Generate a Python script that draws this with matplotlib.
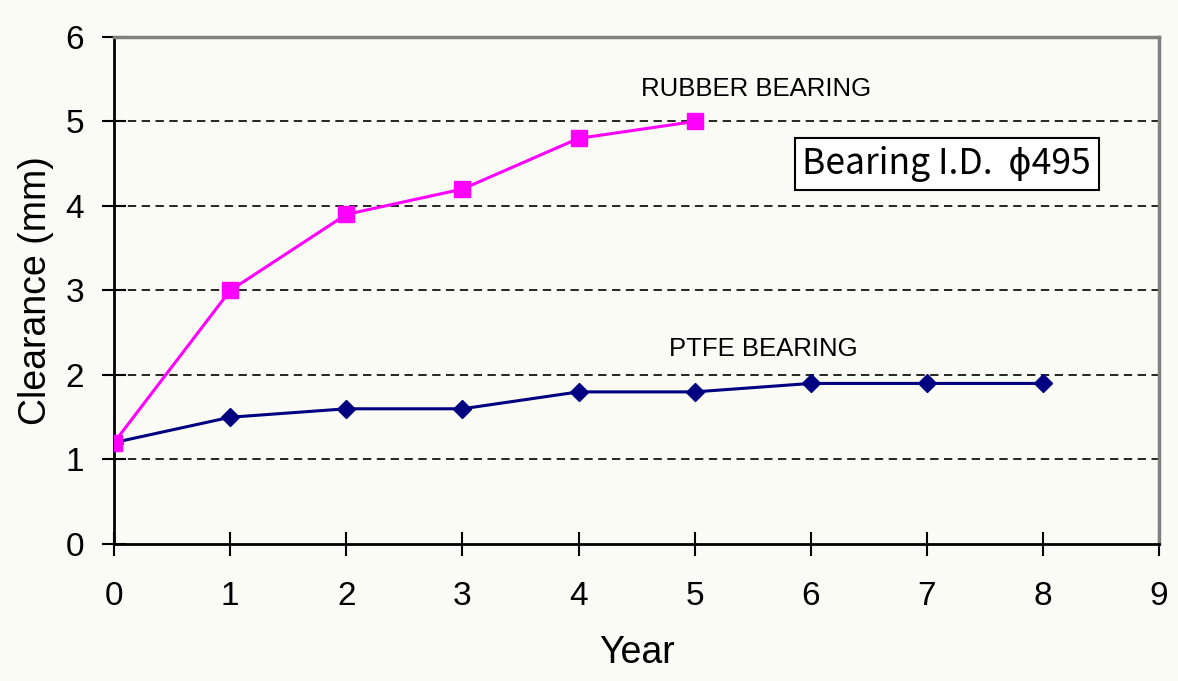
import matplotlib
matplotlib.use("Agg")
import matplotlib.pyplot as plt

# ── Data ──────────────────────────────────────────────────────────────────────
years_rubber = [0, 1, 2, 3, 4, 5]
clearance_rubber = [1.2, 3.0, 3.9, 4.2, 4.8, 5.0]

years_ptfe = [0, 1, 2, 3, 4, 5, 6, 7, 8]
clearance_ptfe = [1.2, 1.5, 1.6, 1.6, 1.8, 1.8, 1.9, 1.9, 1.9]

x_ticks = list(range(0, 10))
y_ticks = list(range(0, 7))
grid_levels = [1, 2, 3, 4, 5]
# ──────────────────────────────────────────────────────────────────────────────

BG = "#fbfbf6"
plt.rcParams["font.family"] = ["Liberation Sans", "DejaVu Sans"]

fig = plt.figure(figsize=(11.78, 6.81), dpi=100, facecolor=BG)
ax = fig.add_axes([0.0968, 0.2012, 0.8872, 0.7445])
ax.set_facecolor(BG)

# dashed horizontal grid
for lvl in grid_levels:
    ax.axhline(lvl, color="black", linestyle=(0, (5, 3.3)), linewidth=1.2, zorder=1)

ax.plot(years_ptfe, clearance_ptfe, color="#000080", linewidth=2.2,
        marker="D", markersize=9, zorder=3)
ax.plot(years_rubber, clearance_rubber, color="#ff00ff", linewidth=2.2,
        marker="s", markersize=11.5, zorder=4)

ax.set_xlim(0, 9)
ax.set_ylim(0, 6)
ax.set_xticks(x_ticks)
ax.set_yticks(y_ticks)
ax.tick_params(direction="inout", length=17, width=1.5, labelsize=24)
ax.tick_params(axis="x", pad=18)
ax.tick_params(axis="y", pad=13)

for side in ("left", "bottom"):
    ax.spines[side].set_color("black")
    ax.spines[side].set_linewidth(2)
for side in ("top", "right"):
    ax.spines[side].set_color("#808080")
    ax.spines[side].set_linewidth(2.5)

ax.set_xlabel("Year", fontsize=27, labelpad=17)
ax.set_ylabel("Clearance (mm)", fontsize=27, labelpad=8)

ax.text(5.53, 5.38, "RUBBER BEARING", fontsize=18.5, ha="center", va="center")
ax.text(5.59, 2.31, "PTFE BEARING", fontsize=18.5, ha="center", va="center")

ax.text(7.17, 4.5, "Bearing I.D.  \u03d5495", fontsize=25.5, ha="center", va="center",
        family=["Noto Sans CJK JP", "DejaVu Sans"],
        bbox=dict(boxstyle="square,pad=0.22", facecolor="white", edgecolor="black",
                  linewidth=1.5))

fig.savefig("out.png", dpi=100, facecolor=BG)
